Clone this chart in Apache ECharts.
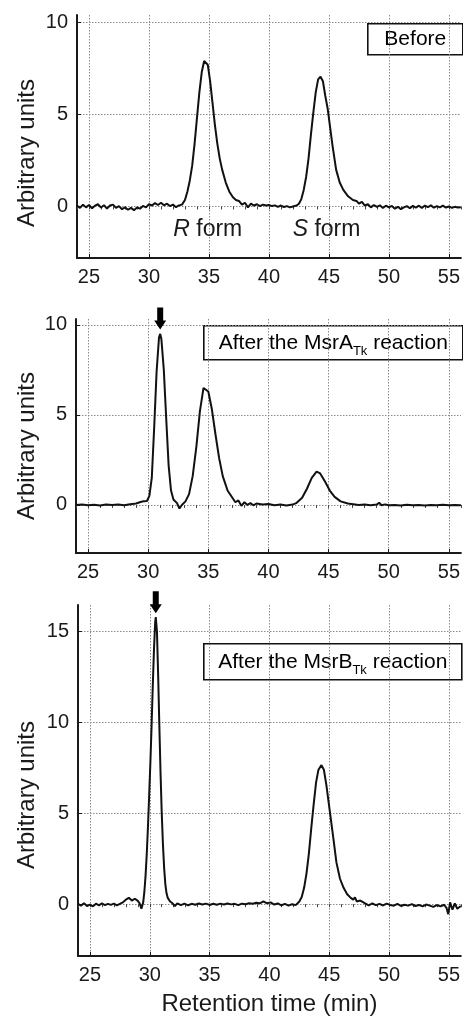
<!DOCTYPE html>
<html>
<head>
<meta charset="utf-8">
<script src="https://cdn.jsdelivr.net/npm/echarts@6/dist/echarts.min.js"></script>
<style>html,body{margin:0;padding:0;background:#fff}#c{width:463px;height:1017px}</style>
</head>
<body>
<div id="c"></div>
<script>
// ---- data (retention time in min, signal in arbitrary units) ----
const xTicks = [25, 30, 35, 40, 45, 50, 55];
const yTicksSmall = [0, 5, 10];
const yTicksLarge = [0, 5, 10, 15];
const panelLabels = ['Before', 'After the MsrA', 'After the MsrB'];
const peakLabels = [['R', ' form', 34.9, -1.25], ['S', ' form', 44.8, -1.25]];
const arrowPeaks = [[31.0, 9.75], [30.5, 16.0]];

const beforeTrace = [
  [24.00,0.05],[24.25,-0.08],[24.50,0.10],[24.75,-0.05],[25.00,0.08],[25.25,-0.10],[25.50,0.04],[25.75,0.12],
  [26.00,-0.06],[26.25,0.07],[26.50,-0.12],[26.75,0.05],[27.00,0.10],[27.25,-0.08],[27.50,0.02],[27.75,-0.15],
  [28.00,-0.05],[28.25,-0.18],[28.50,-0.08],[28.75,-0.20],[29.00,-0.06],[29.25,-0.12],[29.50,0.03],[29.75,-0.05],
  [30.00,0.12],[30.25,0.05],[30.50,0.18],[30.75,0.08],[31.00,0.20],[31.25,0.06],[31.50,0.15],[31.75,0.02],
  [32.00,0.10],[32.25,-0.04],[32.50,0.06],[32.75,0.1],[33.00,0.35],[33.20,0.8],[33.40,1.4],[33.60,2.2],[33.80,3.4],
  [34.00,4.8],[34.20,6.2],[34.40,7.3],[34.60,7.9],[34.75,8.0],[34.90,7.7],[35.10,6.8],[35.30,5.6],[35.50,4.4],
  [35.70,3.4],[35.90,2.6],[36.10,2.0],[36.40,1.3],[36.70,0.8],[37.00,0.5],[37.25,0.35],[37.50,0.3],[37.75,0.1],
  [38.00,0.2],[38.25,-0.05],[38.50,0.15],[38.75,0.05],[39.00,0.12],[39.25,0.02],[39.50,0.10],[39.75,0.05],
  [40.00,0.08],[40.25,0.02],[40.50,0.06],[40.75,-0.02],[41.00,0.05],[41.25,-0.03],[41.50,0.02],[41.75,-0.05],
  [42.00,0.0],[42.30,0.05],[42.50,0.15],[42.70,0.4],[42.90,0.9],[43.10,1.6],[43.30,2.6],[43.50,3.9],[43.70,5.1],
  [43.90,6.2],[44.10,6.9],[44.30,7.05],[44.50,6.8],[44.70,6.0],[44.90,5.3],[45.10,4.3],[45.30,3.3],[45.60,2.0],
  [45.90,1.3],[46.20,0.9],[46.60,0.55],[47.00,0.35],[47.30,0.3],[47.50,0.15],[47.75,0.25],[48.00,0.05],[48.25,0.12],
  [48.50,-0.05],[48.75,0.08],[49.00,-0.02],[49.25,0.06],[49.50,-0.08],[49.75,0.04],[50.00,-0.05],[50.25,0.03],
  [50.50,-0.12],[50.75,-0.02],[51.00,-0.15],[51.25,-0.05],[51.50,0.02],[51.75,-0.10],[52.00,0.03],[52.25,-0.06],
  [52.50,0.04],[52.75,-0.08],[53.00,0.05],[53.25,-0.04],[53.50,0.06],[53.75,-0.07],[54.00,0.02],[54.25,-0.05],
  [54.50,0.04],[54.75,-0.06],[55.00,0.0],[55.25,-0.08],[55.50,-0.02],[55.75,-0.06],[56.00,-0.04]
];

const msrATrace = [
  [24.0,0.0],[24.5,0.02],[25.0,-0.02],[25.5,0.01],[26.0,-0.03],[26.5,0.02],[27.0,0.0],[27.5,0.03],[28.0,-0.02],
  [28.5,0.04],[29.0,0.08],[29.3,0.15],[29.6,0.2],[29.9,0.22],[30.1,0.5],[30.3,1.5],[30.5,4.3],[30.7,7.4],
  [30.9,9.3],[31.0,9.5],[31.1,9.2],[31.3,7.5],[31.5,4.8],[31.7,2.2],[31.9,0.8],[32.1,0.3],[32.4,0.1],[32.6,-0.2],
  [32.8,0.0],[33.1,0.2],[33.4,0.6],[33.7,1.6],[34.0,3.2],[34.3,5.2],[34.6,6.5],[34.75,6.6],[35.0,6.3],[35.3,5.3],
  [35.6,3.9],[35.9,2.6],[36.2,1.6],[36.6,0.8],[37.0,0.4],[37.25,0.15],[37.5,0.25],[37.75,-0.05],[38.0,0.15],
  [38.25,0.0],[38.5,0.1],[38.75,-0.02],[39.0,0.08],[39.5,0.03],[40.0,0.05],[40.5,-0.02],[41.0,0.02],[41.5,-0.03],
  [42.0,0.02],[42.3,0.1],[42.8,0.4],[43.2,0.9],[43.6,1.5],[44.0,1.85],[44.3,1.75],[44.7,1.3],[45.1,0.8],[45.5,0.45],
  [46.0,0.2],[46.6,0.08],[47.2,0.03],[47.5,0.0],[48.0,0.02],[48.5,-0.02],[49.0,0.02],[49.2,0.12],[49.4,-0.02],
  [49.7,0.03],[50.0,-0.02],[50.5,0.0],[51.0,-0.03],[51.5,0.01],[52.0,-0.02],[52.5,0.0],[53.0,-0.03],[53.5,0.0],
  [54.0,-0.02],[54.5,0.01],[55.0,-0.02],[55.5,0.0],[56.0,-0.02]
];

const msrBTrace = [
  [24.00,0.02],[24.25,-0.08],[24.50,0.05],[24.75,-0.10],[25.00,-0.02],[25.25,-0.12],[25.50,0.03],[25.75,-0.06],
  [26.00,0.04],[26.25,-0.05],[26.50,0.02],[26.75,-0.04],[27.00,0.03],[27.25,-0.06],[27.50,0.02],[27.75,0.10],
  [28.00,0.25],[28.25,0.35],[28.50,0.20],[28.75,0.30],[29.00,0.18],[29.15,0.05],[29.30,-0.25],[29.45,0.1],
  [29.55,0.7],[29.65,1.6],[29.75,2.8],[29.85,4.3],[29.95,6.0],[30.05,7.8],[30.15,9.8],[30.25,12.0],[30.35,14.0],
  [30.45,15.5],[30.50,15.8],[30.60,15.0],[30.70,12.6],[30.80,9.8],[30.90,7.2],[31.00,5.0],[31.10,3.3],[31.20,2.0],
  [31.30,1.1],[31.40,0.6],[31.50,0.35],[31.70,0.15],[31.90,0.05],[32.10,-0.10],[32.30,0.05],
  [32.60,-0.05],[32.90,0.03],[33.20,-0.06],[33.50,0.02],[33.80,-0.03],[34.10,0.04],[34.40,-0.02],[34.70,0.03],
  [35.00,-0.04],[35.30,0.02],[35.60,-0.03],[35.90,0.03],[36.20,-0.02],[36.50,0.04],[36.80,-0.01],[37.10,0.02],
  [37.40,-0.05],[37.70,0.03],[38.00,0.0],[38.30,0.05],[38.60,0.02],[38.90,0.08],[39.20,0.05],[39.50,0.15],
  [39.80,0.05],[40.10,0.10],[40.40,-0.02],[40.70,0.04],[41.00,-0.06],[41.30,0.02],[41.60,-0.08],[41.90,0.0],
  [42.20,-0.05],[42.50,0.15],[42.70,0.4],[42.90,0.9],[43.10,1.7],[43.30,2.8],[43.50,4.2],[43.70,5.5],[43.90,6.7],
  [44.10,7.4],[44.35,7.65],[44.55,7.4],[44.75,6.6],[44.95,5.6],[45.15,4.6],[45.35,3.6],[45.60,2.3],[45.90,1.4],
  [46.20,0.9],[46.50,0.55],[46.80,0.35],[47.00,0.25],[47.15,0.38],[47.30,0.15],[47.60,0.2],[48.00,0.05],
  [48.30,-0.06],[48.60,0.04],[48.90,-0.05],[49.20,0.02],[49.50,-0.07],
  [49.80,0.03],[50.10,-0.04],[50.40,-0.08],[50.70,0.02],[51.00,-0.10],[51.30,-0.03],[51.60,-0.08],[51.90,0.0],
  [52.20,-0.10],[52.50,-0.04],[52.80,-0.12],[53.10,-0.02],[53.40,-0.08],[53.70,-0.15],[54.00,-0.05],[54.30,-0.12],
  [54.60,-0.03],[54.80,-0.20],[54.95,-0.55],[55.10,0.10],[55.30,-0.30],[55.50,0.05],[55.70,-0.25],[56.00,-0.10]
];

// ---- chart ----
const FONT = '"Liberation Sans", Arial, sans-serif';
const INK = '#1a1a1a';
const grids = [
  {left: 77, top: 15, width: 387, height: 243},
  {left: 76, top: 319, width: 389, height: 234},
  {left: 78, top: 605, width: 385, height: 352}
];
const yRanges = [[-2.8, 10.4, yTicksSmall], [-2.67, 10.33, yTicksSmall], [-2.85, 16.46, yTicksLarge]];

const xAxes = [], yAxes = [];
grids.forEach((g, i) => {
  xAxes.push({
    type: 'value', gridIndex: i, min: 24, max: 56,
    axisLine: {show: true, onZero: false, lineStyle: {color: INK, width: 2}},
    axisTick: {show: true, inside: true, length: 4, customValues: xTicks, lineStyle: {color: INK}},
    axisLabel: {customValues: xTicks, color: INK, fontSize: 20, fontFamily: FONT, margin: 9},
    splitLine: {show: true, lineStyle: {color: '#8a8a8a', type: [1.5, 1.5], width: 1}},
    name: i === 2 ? 'Retention time (min)' : '',
    nameLocation: 'middle', nameGap: 36,
    nameTextStyle: {color: INK, fontSize: 24, fontFamily: FONT}
  });
  // minor ticks every 1 min
  xAxes.push({
    type: 'value', gridIndex: i, min: 24, max: 56, interval: 1,
    axisLine: {show: false}, axisLabel: {show: false}, splitLine: {show: false},
    axisTick: {show: true, inside: true, length: 3, lineStyle: {color: '#444', width: 1}}
  });
  const r = yRanges[i];
  yAxes.push({
    type: 'value', gridIndex: i, min: r[0], max: r[1],
    axisLine: {show: true, onZero: false, lineStyle: {color: INK, width: 2}},
    axisTick: {show: true, inside: true, length: 4, customValues: r[2], lineStyle: {color: INK}},
    axisLabel: {customValues: r[2], color: INK, fontSize: 20, fontFamily: FONT, margin: 9},
    splitLine: {show: true, lineStyle: {color: '#8a8a8a', type: [1.5, 1.5], width: 1}}
  });
});

const arrowPath = 'path://M3,0 L9,0 L9,13 L12,13 L6,22 L0,13 L3,13 Z';
function arrowMark(p) {
  return {
    silent: true, symbol: arrowPath, symbolSize: [12, 22], symbolOffset: [0, '-50%'],
    itemStyle: {color: '#000'}, label: {show: false},
    data: [{coord: p}]
  };
}

const traces = [beforeTrace, msrATrace, msrBTrace];
const series = traces.map((t, i) => ({
  type: 'line', xAxisIndex: i * 2, yAxisIndex: i, data: t, showSymbol: false, symbol: 'none',
  lineStyle: {color: '#111', width: 2}, animation: false, z: 3
}));
series[0].markPoint = {
  silent: true, symbol: 'circle', symbolSize: 1, itemStyle: {color: 'rgba(0,0,0,0)'},
  label: {show: true, position: 'inside', formatter: p => '{i|' + p.data.name + '}' + p.data.value,
    color: INK, fontSize: 23, fontFamily: FONT,
    rich: {i: {fontStyle: 'italic', fontSize: 23, fontFamily: FONT, color: INK}}},
  data: peakLabels.map(l => ({name: l[0], value: l[1], coord: [l[2], l[3]]}))
};
series[1].markPoint = arrowMark(arrowPeaks[0]);
series[2].markPoint = arrowMark(arrowPeaks[1]);

function box(x, y, w, h, main, sub) {
  const rich = {
    m: {fontSize: 21, fontFamily: FONT, color: INK, lineHeight: 30, verticalAlign: 'middle'},
    s: {fontSize: 13, fontFamily: FONT, color: INK, verticalAlign: 'bottom'}
  };
  const txt = sub ? '{m|' + main + '}{s|' + sub + '}{m| reaction}' : '{m|' + main + '}';
  return {
    type: 'group', left: x, top: y, children: [
      {type: 'rect', shape: {x: 0, y: 0, width: w, height: h},
        style: {fill: '#fff', stroke: '#111', lineWidth: 1.6}},
      {type: 'text', x: w / 2, y: h / 2,
        style: {text: txt, rich: rich, align: 'center', verticalAlign: 'middle'}}
    ]
  };
}
function yTitle(y) {
  return {type: 'text', x: 27, y: y, rotation: Math.PI / 2,
    style: {text: 'Arbitrary units', fontSize: 24, fontFamily: FONT, fill: INK, align: 'center', verticalAlign: 'middle'}};
}

const chart = echarts.init(document.getElementById('c'), null, {renderer: 'canvas'});
chart.setOption({
  animation: false,
  backgroundColor: '#fff',
  grid: grids,
  xAxis: xAxes,
  yAxis: yAxes,
  series: series,
  graphic: [
    box(367, 23, 95, 31, panelLabels[0]),
    box(203, 325, 259, 34, panelLabels[1], 'Tk'),
    box(203, 643, 258, 36, panelLabels[2], 'Tk'),
    yTitle(153), yTitle(446), yTitle(795)
  ]
});
</script>
</body>
</html>
